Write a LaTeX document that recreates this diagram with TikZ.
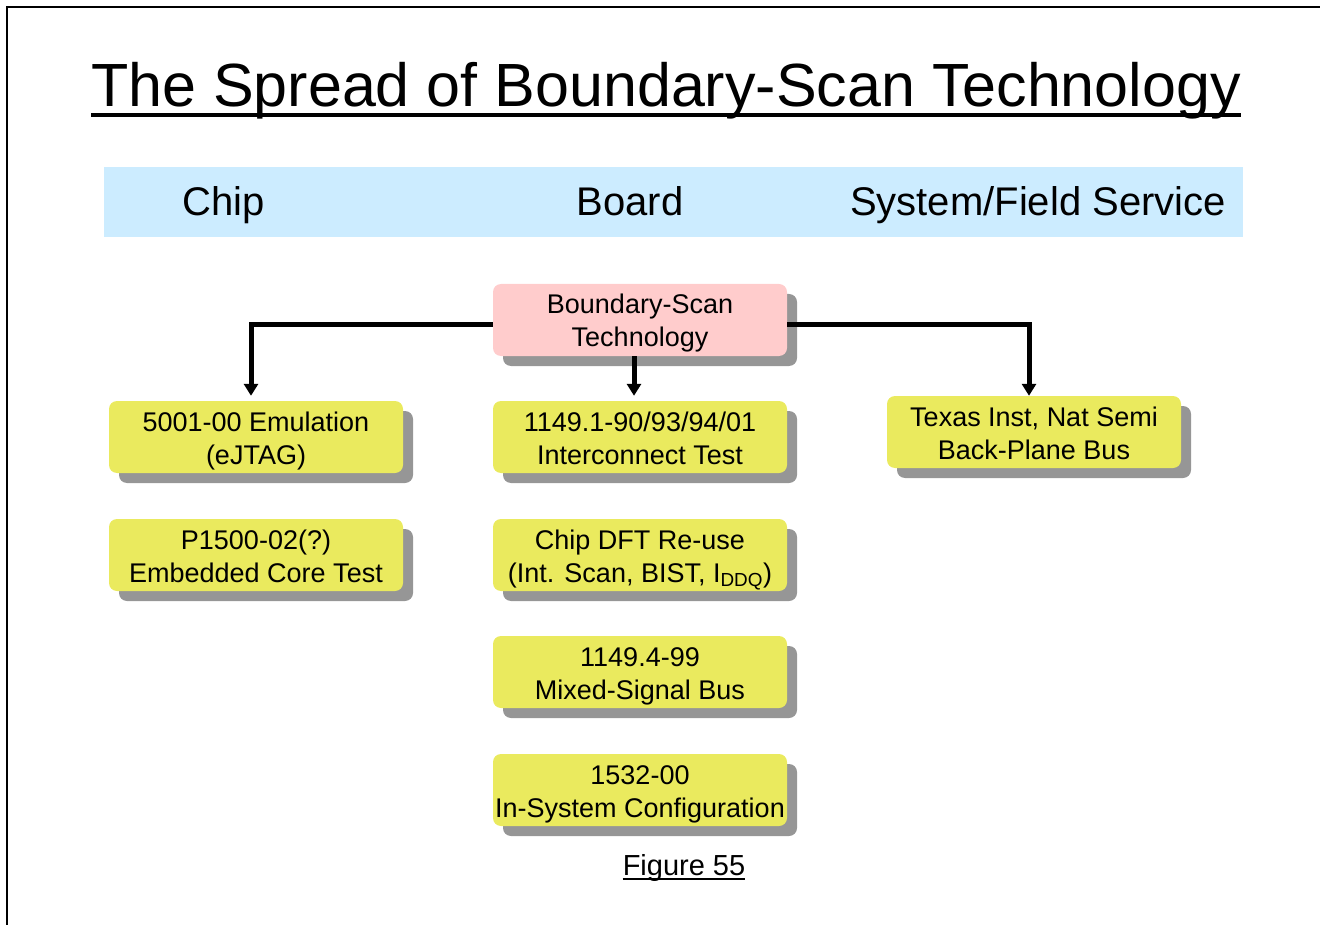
\documentclass[tikz,border=0pt]{standalone}
\usepackage{fontspec}
\setmainfont{Liberation Sans}
\usetikzlibrary{arrows.meta,shadows}
\definecolor{bandblue}{RGB}{204,236,255}
\definecolor{boxyellow}{RGB}{234,234,94}
\definecolor{boxpink}{RGB}{255,204,204}
\definecolor{shadowgray}{RGB}{150,150,150}
\tikzset{
  box/.style={rounded corners=8pt, minimum width=294pt, minimum height=72pt,
    inner sep=0pt, align=center, font=\fontsize{27}{33}\selectfont,
    text height=60pt, text depth=6pt,
    drop shadow={shadow xshift=10pt, shadow yshift=-10pt, fill=shadowgray, opacity=1}},
  ybox/.style={box, fill=boxyellow},
  pbox/.style={box, fill=boxpink},
  arr/.style={line width=5pt, -{Triangle[length=12pt,width=14pt]}},
  hdr/.style={inner sep=0pt, anchor=base, font=\fontsize{40}{48}\selectfont},
}
\begin{document}
\begin{tikzpicture}[x=1pt,y=-1pt]
\useasboundingbox (0,0) rectangle (1320,925);
% frame
\draw[line width=2pt] (7,925) -- (7,7) -- (1320,7);
% title
\node[inner sep=0pt, anchor=base, font=\fontsize{61}{70}\selectfont] (title) at (666,107) {The Spread of Boundary-Scan Technology};
\draw[line width=4pt] ([yshift=-8pt]title.base west) -- ([yshift=-8pt]title.base east);
% header band
\fill[bandblue] (104,167) rectangle (1243,237);
\node[hdr] (hchip) at (224,216) {Chip};
\node[hdr] (hboard) at (630,216) {Board};
\node[hdr] (hsys) at (1038,216) {System/Field Service};
% boxes
\node[pbox] (bst) at (640,320) {Boundary-Scan\\Technology};
\node[ybox] (emu) at (256,437) {5001-00 Emulation\\(eJTAG)};
\node[ybox] (p1500) at (256,555) {P1500-02(?)\\Embedded Core Test};
\node[ybox] (ict) at (640,437) {1149.1-90/93/94/01\\Interconnect Test};
\node[ybox] (dft) at (640,555) {Chip DFT Re-use\\(Int. Scan, BIST, I\textsubscript{DDQ})};
\node[ybox] (msb) at (640,672) {1149.4-99\\Mixed-Signal Bus};
\node[ybox] (isc) at (640,790) {1532-00\\In-System Configuration};
\node[ybox] (tex) at (1034,432) {Texas Inst, Nat Semi\\Back-Plane Bus};
% connectors
\draw[arr] ([xshift=-6pt]bst.south) -- ([xshift=-6pt,yshift=5pt]ict.north);
\draw[arr] ([yshift=-5pt]bst.west) -| ([xshift=-5pt,yshift=5pt]emu.north);
\draw[arr] ([yshift=-5pt]bst.east) -| ([xshift=-5pt]tex.north);
% figure caption
\node[inner sep=0pt, anchor=base, font=\fontsize{29}{34}\selectfont] (fig) at (684,875) {Figure 55};
\draw[line width=2.5pt] ([yshift=-4pt]fig.base west) -- ([yshift=-4pt]fig.base east);
\end{tikzpicture}
\end{document}
